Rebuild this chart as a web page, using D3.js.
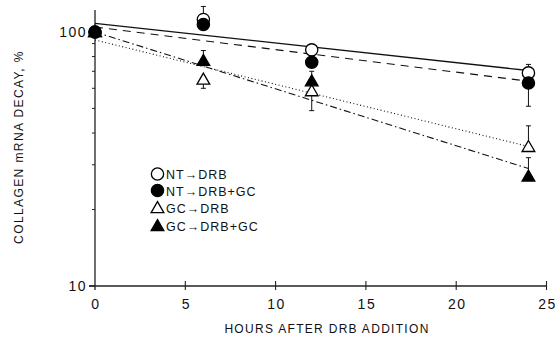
<!DOCTYPE html>
<html>
<head>
<meta charset="utf-8">
<script src="https://cdn.jsdelivr.net/npm/d3@7"></script>
<style>
  body { margin: 0; background: #fff; }
  text { font-family: "Liberation Sans", Arial, sans-serif; fill: #111; }
</style>
</head>
<body>
<svg width="556" height="337"></svg>
<script>
// hours after DRB addition
var hours = [0, 6, 12, 24];

// % collagen mRNA remaining, per group
var ntDrb   = [100, 112, 85, 69];
var ntDrbGc = [100, 107, 76, 63];
var gcDrb   = [100, 65, 58.5, 35.3];
var gcDrbGc = [100, 77, 64, 27];

// error bar ends (null = none drawn)
var ntDrbErr   = [null, 126, 88, 74.5];
var ntDrbGcErr = [null, null, null, 51];
var gcDrbErr   = [null, 60, 49, 42.7];
var gcDrbGcErr = [null, 84.5, 70, 32];

// fitted decay lines: value at 0 h and at 24 h
var fitStart = [108, 104.5, 93, 100];
var fitEnd   = [70.5, 64, 35.4, 29];

var groupNames = ["NT\u2192DRB", "NT\u2192DRB+GC", "GC\u2192DRB", "GC\u2192DRB+GC"];
var xTicks = [0, 5, 10, 15, 20, 25];
var yMinor = [20, 30, 40, 50, 60, 70, 80, 90];

var svg = d3.select("svg");

var x = d3.scaleLinear().domain([0, 25]).range([95, 546.5]);
var y = d3.scaleLog().domain([10, 122]).range([286, 10]);

var series = [
  { vals: ntDrb,   err: ntDrbErr,   shape: "circle",   fill: "#fff", dash: null },
  { vals: ntDrbGc, err: ntDrbGcErr, shape: "circle",   fill: "#000", dash: "8,6" },
  { vals: gcDrb,   err: gcDrbErr,   shape: "triangle", fill: "#fff", dash: "1,2.5" },
  { vals: gcDrbGc, err: gcDrbGcErr, shape: "triangle", fill: "#000", dash: "7,3,1.5,3" }
];

// axes
var g = svg.append("g");
g.append("line")
  .attr("x1", x(0) - 6).attr("x2", x(25))
  .attr("y1", y(10)).attr("y2", y(10))
  .attr("stroke", "#222").attr("stroke-width", 1.3);
g.append("line")
  .attr("x1", x(0)).attr("x2", x(0))
  .attr("y1", y(122)).attr("y2", y(10) + 4)
  .attr("stroke", "#222").attr("stroke-width", 1.3);

g.selectAll(".xt")
  .data(xTicks.slice(1)).enter()
  .append("line")
  .attr("x1", function(d) { return x(d); })
  .attr("x2", function(d) { return x(d); })
  .attr("y1", y(10) - 5).attr("y2", y(10) + 4)
  .attr("stroke", "#222").attr("stroke-width", 1.1);

g.selectAll(".xl")
  .data(xTicks).enter()
  .append("text")
  .attr("x", function(d) { return x(d) + 1; })
  .attr("y", 308.5)
  .attr("text-anchor", "middle")
  .attr("font-size", "14px")
  .attr("letter-spacing", "1.5px")
  .text(function(d) { return d; });

g.selectAll(".ym")
  .data(yMinor).enter()
  .append("line")
  .attr("x1", x(0) - 3).attr("x2", x(0))
  .attr("y1", function(d) { return y(d); })
  .attr("y2", function(d) { return y(d); })
  .attr("stroke", "#222").attr("stroke-width", 1);

g.selectAll(".yM")
  .data([10, 100]).enter()
  .append("line")
  .attr("x1", x(0) - 6).attr("x2", x(0))
  .attr("y1", function(d) { return y(d); })
  .attr("y2", function(d) { return y(d); })
  .attr("stroke", "#222").attr("stroke-width", 1.2);

g.selectAll(".yl")
  .data([10, 100]).enter()
  .append("text")
  .attr("x", 87)
  .attr("y", function(d) { return y(d) + 5; })
  .attr("text-anchor", "end")
  .attr("font-size", "14px")
  .attr("letter-spacing", "1.5px")
  .text(function(d) { return d; });

svg.append("text")
  .attr("x", 327).attr("y", 333)
  .attr("text-anchor", "middle")
  .attr("font-size", "12px")
  .attr("letter-spacing", "1.3px")
  .text("HOURS AFTER DRB ADDITION");

svg.append("text")
  .attr("transform", "translate(23,147) rotate(-90)")
  .attr("text-anchor", "middle")
  .attr("font-size", "12px")
  .attr("letter-spacing", "1.4px")
  .text("COLLAGEN mRNA DECAY, %");

// fitted lines
series.forEach(function(s, i) {
  svg.append("line")
    .attr("x1", x(0)).attr("y1", y(fitStart[i]))
    .attr("x2", x(24)).attr("y2", y(fitEnd[i]))
    .attr("stroke", "#111")
    .attr("stroke-width", i == 0 ? 1.3 : 1.1)
    .attr("stroke-dasharray", s.dash);
});

// error bars
series.forEach(function(s) {
  hours.forEach(function(h, j) {
    if (s.err[j] == null) return;
    svg.append("line")
      .attr("x1", x(h)).attr("x2", x(h))
      .attr("y1", y(s.vals[j])).attr("y2", y(s.err[j]))
      .attr("stroke", "#111").attr("stroke-width", 1);
    svg.append("line")
      .attr("x1", x(h) - 2.5).attr("x2", x(h) + 2.5)
      .attr("y1", y(s.err[j])).attr("y2", y(s.err[j]))
      .attr("stroke", "#111").attr("stroke-width", 1);
  });
});

var circ = d3.symbol().type(d3.symbolCircle).size(118);
var tri = d3.symbol().type(d3.symbolTriangle).size(70);

function marker(sel, s) {
  sel.attr("d", s.shape == "circle" ? circ() : tri())
    .attr("fill", s.fill)
    .attr("stroke", "#000")
    .attr("stroke-width", 1.3);
}

// points, drawn so the t=0 filled circle is on top
[2, 3, 0, 1].forEach(function(i) {
  var s = series[i];
  svg.selectAll(".p" + i)
    .data(hours).enter()
    .append("path")
    .attr("transform", function(d, j) {
      return "translate(" + x(d) + "," + (y(s.vals[j]) + (s.shape == "triangle" ? 1 : 0)) + ")";
    })
    .call(marker, s);
});

// legend
var leg = svg.append("g");
var legY = [174, 190.5, 208, 226];
series.forEach(function(s, i) {
  leg.append("path")
    .attr("transform", "translate(157.5," + (legY[i] + (s.shape == "triangle" ? 1 : 0)) + ")")
    .call(marker, s);
  leg.append("text")
    .attr("x", 166).attr("y", legY[i] + 5)
    .attr("font-size", "12.5px")
    .attr("letter-spacing", "1px")
    .text(groupNames[i]);
});
</script>
</body>
</html>
